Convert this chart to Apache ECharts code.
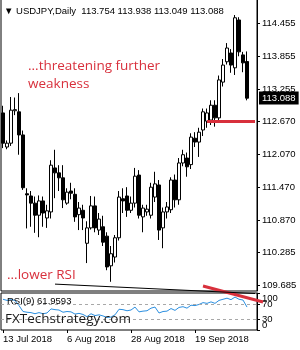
<!DOCTYPE html>
<html>
<head>
<meta charset="utf-8">
<title>USDJPY Daily</title>
<script src="https://cdn.jsdelivr.net/npm/echarts@6/dist/echarts.min.js"></script>
<style>
  html, body { margin: 0; padding: 0; background: #fff; }
  #chart { width: 300px; height: 350px; }
</style>
</head>
<body>
<div id="chart"></div>
<script>
// daily bars, 13 Jul 2018 .. 8 Oct 2018
var dates = ['13 Jul 2018','16 Jul 2018','17 Jul 2018','18 Jul 2018','19 Jul 2018','20 Jul 2018',
  '23 Jul 2018','24 Jul 2018','25 Jul 2018','26 Jul 2018','27 Jul 2018','30 Jul 2018','31 Jul 2018',
  '1 Aug 2018','2 Aug 2018','3 Aug 2018','6 Aug 2018','7 Aug 2018','8 Aug 2018','9 Aug 2018','10 Aug 2018',
  '13 Aug 2018','14 Aug 2018','15 Aug 2018','16 Aug 2018','17 Aug 2018','20 Aug 2018','21 Aug 2018',
  '22 Aug 2018','23 Aug 2018','24 Aug 2018','27 Aug 2018','28 Aug 2018','29 Aug 2018','30 Aug 2018','31 Aug 2018',
  '3 Sep 2018','4 Sep 2018','5 Sep 2018','6 Sep 2018','7 Sep 2018','10 Sep 2018','11 Sep 2018','12 Sep 2018',
  '13 Sep 2018','14 Sep 2018','17 Sep 2018','18 Sep 2018','19 Sep 2018','20 Sep 2018','21 Sep 2018',
  '24 Sep 2018','25 Sep 2018','26 Sep 2018','27 Sep 2018','28 Sep 2018',
  '1 Oct 2018','2 Oct 2018','3 Oct 2018','4 Oct 2018','5 Oct 2018','8 Oct 2018'];

var opens  = [112.82,112.20,112.27,112.86,112.84,112.42,111.35,111.31,111.18,110.96,111.22,110.91,111.02,
  111.82,111.73,111.64,111.18,111.40,111.34,110.97,111.05,110.45,110.73,111.13,110.69,110.75,110.58,110.04,
  110.20,110.55,111.26,111.31,111.05,111.18,111.69,110.93,111.02,110.96,111.29,111.51,110.73,111.02,111.06,
  111.60,111.24,111.91,112.00,111.88,112.36,112.29,112.51,112.67,112.69,112.96,112.73,113.38,
  113.75,113.91,113.64,114.51,113.875,113.754];
var closes = [112.27,112.27,112.87,112.88,112.42,111.46,111.33,111.18,110.96,111.22,111.00,111.04,111.87,
  111.73,111.64,111.24,111.38,111.36,110.93,111.09,110.91,110.73,111.13,110.73,110.89,110.47,110.02,110.26,
  110.55,111.29,111.22,111.05,111.18,111.67,110.96,111.09,111.07,111.47,111.53,110.69,111.02,111.11,111.60,
  111.24,111.91,112.06,111.84,112.38,112.29,112.47,112.84,112.82,112.96,112.73,113.42,113.69,
  114.00,113.69,114.55,113.93,113.73,113.088];
var lows   = [112.18,112.16,112.22,112.78,112.06,111.42,110.72,110.75,110.64,110.56,110.75,110.73,110.90,
  111.27,111.40,111.09,111.15,111.25,110.84,110.69,110.69,110.09,110.70,110.65,110.60,110.40,109.96,109.75,
  110.10,110.50,111.00,110.93,111.00,111.10,110.90,110.65,110.95,110.90,111.20,110.51,110.36,110.90,111.00,
  111.10,111.15,111.85,111.66,111.80,112.20,112.02,112.40,112.55,112.60,112.57,112.65,113.30,
  113.70,113.55,113.51,113.85,113.56,113.049];
var highs  = [112.95,112.32,113.11,113.10,113.18,112.50,111.45,111.40,111.30,111.32,111.30,111.15,111.96,
  112.15,111.87,111.87,111.45,111.55,111.45,111.20,111.15,110.85,111.31,111.30,111.00,110.95,110.65,110.40,
  110.60,111.40,111.45,111.47,111.30,111.82,111.78,111.15,111.15,111.55,111.75,111.60,111.10,111.20,111.65,
  111.70,112.00,112.15,112.10,112.45,112.47,112.55,112.90,112.90,113.05,113.05,113.50,113.80,
  114.09,113.98,114.60,114.56,113.93,113.938];

// RSI(9)
var rsi = [83,80,82,80,66,50,48,47,44,47,44,46,57,55,54,48,50,49,43,45,42,36,44,39,41,38,34,35,41,56,55,
  52,54,62,49,51,52,59,62,46,50,51,58,53,61,63,59,67,66,69,74,72,76,72,80,83,86,82,89,83,81,61.9593];

var priceTicks = [109.685,110.285,110.870,111.470,112.070,112.670,113.255,113.855,114.455];
var rsiTicks = [0,30,70,100];
var rsiLevels = [70,30];
var supportLevel = 112.67;         // red horizontal line
var supportFrom = 51;              // bar index where it starts
// [fromIndex, fromRsi, toIndex, toRsi]
var rsiTrendLine = [50,119,65,75.7];
var blackTrendLine = [13,124,63,98.6];

var symbolName = 'USDJPY,Daily';
var notes = ['...threatening further\nweakness', '...lower RSI'];
var siteName = 'FXTechstrategy.com';

// two empty slots on the right like the MT4 chart shift
var cats = dates.concat(['', ' ']);
var candles = dates.map(function (d, i) {
  return [opens[i], closes[i], lows[i], highs[i]];
});
var last = candles.length - 1;
var header = '\u25BC ' + symbolName + '  ' +
  [opens[last], highs[last], lows[last], closes[last]].map(function (v) { return v.toFixed(3); }).join(' ');

var mt4Font = 'Liberation Sans, Arial, sans-serif';
var noteFont = 'Open Sans, Noto Sans, sans-serif';
var red = '#d8303c';
var small = { fontFamily: mt4Font, fontSize: 9.5, color: '#000', fontWeight: 'normal' };

// extra label-only axis on the RSI window (for the clamped 100 / 0 labels)
function rsiLabelAxis(values, vAlign) {
  return {
    type: 'value', gridIndex: 1, position: 'right', min: 0, max: 100,
    axisLine: { show: false }, axisTick: { show: false }, splitLine: { show: false },
    axisLabel: Object.assign({ customValues: values, margin: 5, verticalAlign: vAlign }, small)
  };
}

var chart = echarts.init(document.getElementById('chart'));

var option = {
  animation: false,
  backgroundColor: '#fff',
  title: [
    { text: header, left: 4, top: 6, padding: 0, textStyle: small },
    { text: notes[0], left: 28, top: 57, padding: 0,
      textStyle: { fontFamily: noteFont, fontSize: 13.5, lineHeight: 18, color: red, fontWeight: 'normal' } },
    { text: notes[1], left: 7, top: 268, padding: 0,
      textStyle: { fontFamily: noteFont, fontSize: 13.5, color: red, fontWeight: 'normal' } },
    { text: 'RSI(9) ' + rsi[last].toFixed(4), left: 7, top: 296, padding: 0, textStyle: small },
    { text: siteName, left: 5, top: 312, padding: 0,
      textStyle: { fontFamily: noteFont, fontSize: 13.5, color: '#1a1a1a', fontWeight: 'normal' } }
  ],
  grid: [
    { left: 1, right: 43, top: -2, height: 293, show: true, borderColor: '#000', borderWidth: 1,
      containLabel: false, outerBoundsMode: 'none' },
    { left: 1, right: 43, top: 293, height: 37, show: true, borderColor: '#000', borderWidth: 1,
      containLabel: false, outerBoundsMode: 'none' }
  ],
  xAxis: [
    { type: 'category', gridIndex: 0, data: cats, boundaryGap: true, show: false },
    { type: 'category', gridIndex: 1, data: cats, boundaryGap: true,
      axisLine: { show: false },
      axisTick: { show: true, interval: 15, alignWithLabel: true, length: 3, lineStyle: { color: '#000' } },
      axisLabel: Object.assign({ interval: 15, align: 'left', margin: 4 }, small),
      splitLine: { show: false } }
  ],
  yAxis: [
    { type: 'value', gridIndex: 0, position: 'right', min: 109.5823, max: 114.9095, scale: true,
      axisLine: { show: true, lineStyle: { color: '#000' } },
      axisTick: { show: true, customValues: priceTicks, length: 3, lineStyle: { color: '#000' } },
      axisLabel: Object.assign({ customValues: priceTicks, margin: 5,
        formatter: function (v) { return v.toFixed(3); } }, small),
      splitLine: { show: false } },
    { type: 'value', gridIndex: 1, position: 'right', min: 0, max: 100,
      axisLine: { show: true, lineStyle: { color: '#000' } },
      axisTick: { show: true, customValues: rsiTicks, length: 3, lineStyle: { color: '#000' } },
      axisLabel: Object.assign({ customValues: rsiLevels, margin: 5 }, small),
      splitLine: { show: false } },
    rsiLabelAxis([100], 'top'),
    rsiLabelAxis([0], 'bottom')
  ],
  series: [
    {
      type: 'candlestick',
      xAxisIndex: 0, yAxisIndex: 0,
      data: candles,
      barWidth: 3,
      itemStyle: { color: '#fff', color0: '#000', borderColor: '#000', borderColor0: '#000', borderWidth: 1 },
      markLine: {
        silent: true,
        symbol: 'none',
        animation: false,
        data: [
          [
            { coord: [supportFrom, supportLevel], lineStyle: { color: red, width: 3, type: 'solid' }, label: { show: false } },
            { coord: [cats.length - 1, supportLevel] }
          ],
          { yAxis: closes[last], lineStyle: { color: 'transparent', width: 0 },
            label: Object.assign({ show: true, position: 'end', distance: 2,
              formatter: closes[last].toFixed(3), backgroundColor: '#000', padding: [2, 3, 1, 3] },
              small, { color: '#fff' }) }
        ]
      }
    },
    {
      type: 'line',
      xAxisIndex: 1, yAxisIndex: 1,
      data: rsi,
      symbol: 'none',
      lineStyle: { color: '#2b8fe0', width: 1 },
      markLine: {
        silent: true,
        symbol: 'none',
        label: { show: false },
        lineStyle: { color: '#a8a8a8', width: 1, type: [3, 3] },
        data: rsiLevels.map(function (v) { return { yAxis: v }; })
      }
    },
    {
      // hand-drawn trend lines over the RSI window
      type: 'custom',
      xAxisIndex: 1, yAxisIndex: 1,
      clip: false,
      silent: true,
      z: 10,
      data: [rsiTrendLine, blackTrendLine],
      renderItem: function (params, api) {
        var a = api.coord([api.value(0), api.value(1)]);
        var b = api.coord([api.value(2), api.value(3)]);
        var isRed = params.dataIndex === 0;
        return {
          type: 'line',
          shape: { x1: a[0], y1: a[1], x2: b[0], y2: b[1] },
          style: { stroke: isRed ? red : '#000', lineWidth: isRed ? 3 : 1 }
        };
      }
    }
  ]
};

chart.setOption(option);
</script>
</body>
</html>
